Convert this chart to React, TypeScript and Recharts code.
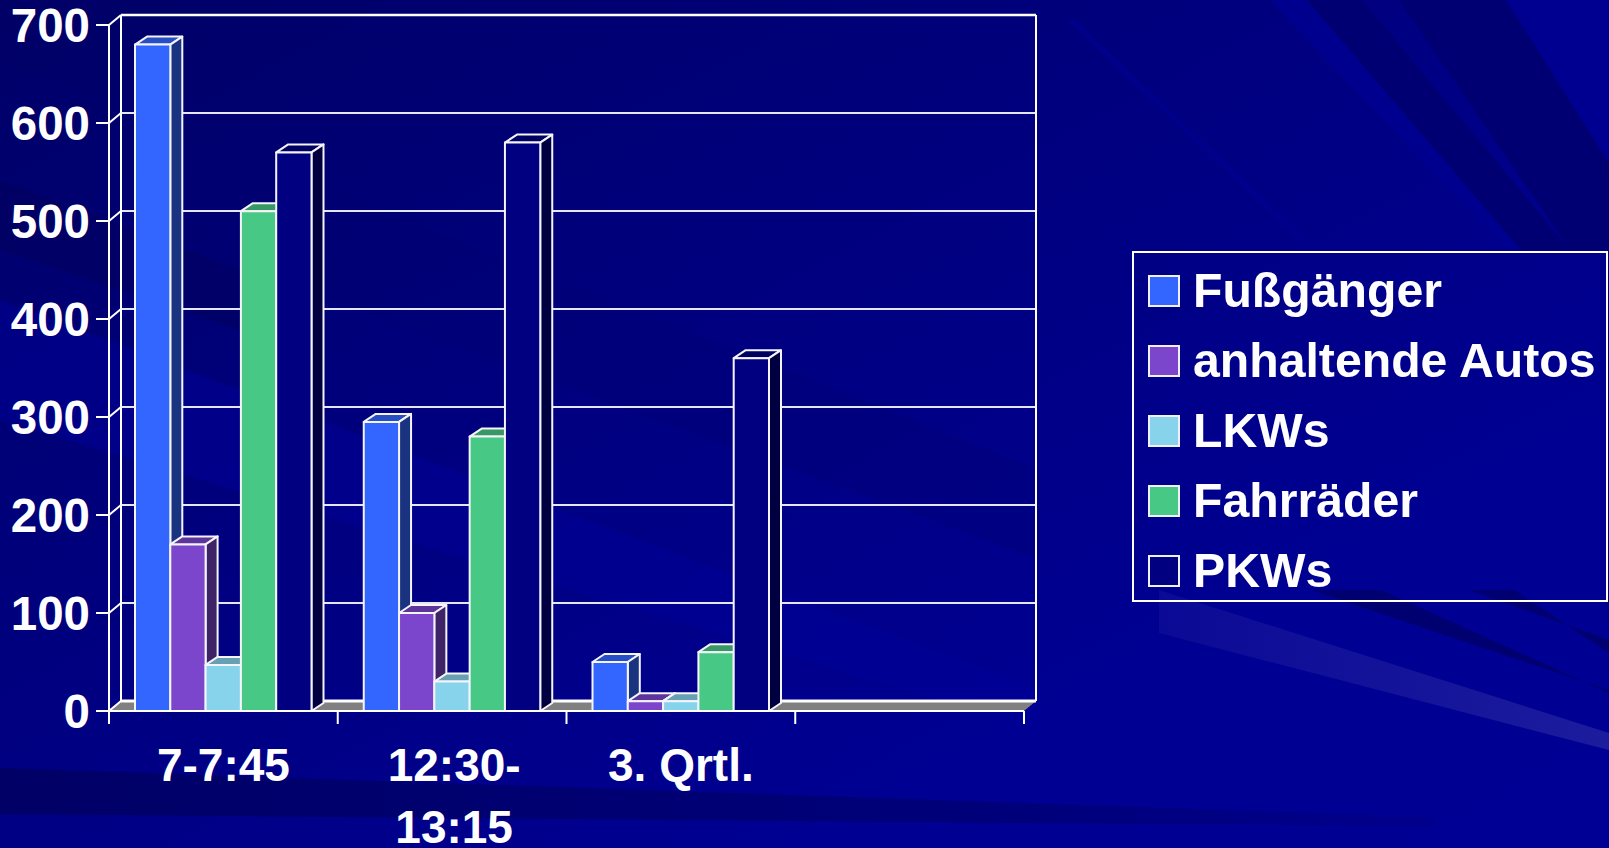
// App.tsx - 3D-Saeulendiagramm Verkehrszaehlung

import React from "react";
import { BarChart, Bar, XAxis, YAxis, CartesianGrid, Legend } from "recharts";

const categories = ["7-7:45", "12:30-\n13:15", "3. Qrtl.", ""];
const yTicks = [0, 100, 200, 300, 400, 500, 600, 700];

const fussgaenger = [680, 295, 50, 0];
const anhaltendeAutos = [170, 100, 10, 0];
const lkws = [47, 30, 10, 0];
const fahrraeder = [510, 280, 60, 0];
const pkws = [570, 580, 360, 0];

const seriesNames = ["Fußgänger", "anhaltende Autos", "LKWs", "Fahrräder", "PKWs"];
const seriesColors = ["#3366ff", "#7b45cc", "#87d3ec", "#48c885", "#000080"];
const seriesValues = [fussgaenger, anhaltendeAutos, lkws, fahrraeder, pkws];

const chartData = categories.map((name, i) => {
  const row: any = { name };
  seriesNames.forEach((s, j) => {
    row[s] = seriesValues[j][i];
  });
  return row;
});

const WIDTH = 1609;
const HEIGHT = 848;
const PLOT_LEFT = 109;
const PLOT_RIGHT = 1024;
const PLOT_TOP = 25;
const PLOT_BOTTOM = 711;
const BAND = (PLOT_RIGHT - PLOT_LEFT) / categories.length;

// Tiefe der Rueckwand und der Saeulen
const WALL_DX = 12;
const WALL_DY = 10;
const BAR_DX = 12;
const BAR_DY = 8;
const FONT = "'Liberation Sans', Arial, sans-serif";

const shade = (hex: string, f: number) => {
  const n = parseInt(hex.slice(1), 16);
  const r = Math.round(((n >> 16) & 255) * f);
  const g = Math.round(((n >> 8) & 255) * f);
  const b = Math.round((n & 255) * f);
  return `rgb(${r},${g},${b})`;
};

const Bar3D = ({ x, y, width, height, fill }: any) => {
  if (!height || height <= 0) return null;
  const r = x + width;
  const b = y + height;
  const edge = { stroke: "#f4f4fa", strokeWidth: 2, strokeLinejoin: "round" as const };
  return (
    <g>
      <polygon
        points={`${x},${y} ${r},${y} ${r + BAR_DX},${y - BAR_DY} ${x + BAR_DX},${y - BAR_DY}`}
        fill={shade(fill, 0.76)}
        {...edge}
      />
      <polygon
        points={`${r},${y} ${r + BAR_DX},${y - BAR_DY} ${r + BAR_DX},${b - BAR_DY} ${r},${b}`}
        fill={shade(fill, 0.5)}
        {...edge}
      />
      <rect x={x} y={y} width={width} height={height} fill={fill} {...edge} />
    </g>
  );
};

// Gitterlinie auf der Rueckwand, unten kommt der Boden, oben die Wand dazu
const WallLine = ({ x1, x2, y1 }: any) => {
  const lx = x1 + WALL_DX;
  const rx = x2 + WALL_DX;
  const wy = y1 - WALL_DY;
  if (Math.abs(y1 - PLOT_BOTTOM) < 1) {
    return (
      <g>
        <polygon points={`${x1},${y1} ${x2},${y1} ${rx},${wy} ${lx},${wy}`} fill="#808080" />
        <line x1={lx} x2={rx} y1={wy} y2={wy} stroke="#ffffff" strokeWidth={3} />
      </g>
    );
  }
  if (Math.abs(y1 - PLOT_TOP) < 1) {
    return (
      <g>
        <line x1={lx} x2={rx} y1={wy} y2={wy} stroke="#ffffff" strokeWidth={2.5} />
        <line x1={lx} x2={lx} y1={wy} y2={PLOT_BOTTOM - WALL_DY} stroke="#ffffff" strokeWidth={2} />
        <line x1={rx} x2={rx} y1={wy} y2={PLOT_BOTTOM - WALL_DY} stroke="#ffffff" strokeWidth={2} />
      </g>
    );
  }
  return <line x1={lx} x2={rx} y1={wy} y2={wy} stroke="#e6e6f2" strokeWidth={2} />;
};

const YTick = ({ y, payload }: any) => (
  <g>
    <line x1={PLOT_LEFT - 13} x2={PLOT_LEFT} y1={y} y2={y} stroke="#ffffff" strokeWidth={2} />
    <line x1={PLOT_LEFT} x2={PLOT_LEFT + WALL_DX} y1={y} y2={y - WALL_DY} stroke="#ffffff" strokeWidth={2} />
    <text x={PLOT_LEFT - 19} y={y + 17} textAnchor="end" fill="#ffffff" fontFamily={FONT} fontWeight="bold" fontSize={47.5}>
      {payload.value}
    </text>
  </g>
);

const XTick = ({ x, payload, index }: any) => {
  const lines = String(payload.value).split("\n");
  const tick = (px: number) => (
    <line x1={px} x2={px} y1={PLOT_BOTTOM} y2={PLOT_BOTTOM + 13} stroke="#ffffff" strokeWidth={2} />
  );
  return (
    <g>
      {tick(x - BAND / 2)}
      {index === categories.length - 1 && tick(x + BAND / 2)}
      <text textAnchor="middle" fill="#ffffff" fontFamily={FONT} fontWeight="bold" fontSize={46}>
        {lines.map((l, i) => (
          <tspan key={i} x={x + (lines.length > 1 ? 2 : 0)} y={PLOT_BOTTOM + 70 + i * 62}>
            {l}
          </tspan>
        ))}
      </text>
    </g>
  );
};

const LegendBox = ({ payload }: any) => (
  <div
    style={{
      boxSizing: "border-box",
      width: 476,
      height: 351,
      border: "2px solid #ffffff",
      padding: "22px 0 0 14px",
      fontFamily: FONT,
      fontWeight: "bold",
      fontSize: 48.2,
      color: "#ffffff",
      whiteSpace: "nowrap",
    }}
  >
    {(payload || []).map((p: any) => (
      <div key={p.value} style={{ display: "flex", alignItems: "center", height: 31, marginBottom: 39 }}>
        <span
          style={{
            boxSizing: "border-box",
            display: "inline-block",
            width: 32,
            height: 32,
            marginRight: 13,
            background: p.color,
            border: "2px solid #f0f0f8",
          }}
        />
        <span style={{ lineHeight: "31px" }}>{p.value}</span>
      </div>
    ))}
  </div>
);

// Folienhintergrund mit den schraegen Streifen
const Backdrop = () => (
  <svg width={WIDTH} height={HEIGHT} style={{ position: "absolute", left: 0, top: 0 }}>
    <defs>
      <linearGradient id="bg" x1="0" y1="0" x2="1" y2="1">
        <stop offset="0" stopColor="#000066" />
        <stop offset="0.4" stopColor="#00007f" />
        <stop offset="0.75" stopColor="#000092" />
        <stop offset="1" stopColor="#000094" />
      </linearGradient>
      <linearGradient id="glow" x1="0" y1="0" x2="1" y2="0">
        <stop offset="0" stopColor="#0a0a96" />
        <stop offset="1" stopColor="#1c1c9e" />
      </linearGradient>
      <linearGradient id="low" x1="0" y1="0" x2="1" y2="0">
        <stop offset="0" stopColor="#000066" />
        <stop offset="0.7" stopColor="#00007a" />
        <stop offset="1" stopColor="#00008c" />
      </linearGradient>
    </defs>
    <rect width={WIDTH} height={HEIGHT} fill="url(#bg)" />
    <polygon points="0,60 1040,470 1040,560 0,180" fill="#000070" opacity={0.3} />
    <polygon points="0,300 1040,690 1040,730 0,420" fill="#000098" opacity={0.5} />
    <polygon points="0,180 240,270 240,330 0,250" fill="#00005c" opacity={0.5} />
    <polygon points="1067,20 1075,20 1315,247 1305,247" fill="#00008b" />
    <polygon points="1270,0 1307,0 1521,250 1506,250" fill="#00008e" />
    <polygon points="1307,0 1362,0 1570,250 1521,250" fill="#000072" />
    <polygon points="1399,0 1506,0 1609,163 1609,250 1570,250" fill="#000072" />
    <polygon points="1506,0 1609,0 1609,163" fill="#000090" />
    <polygon points="1311,590 1381,590 1609,693 1609,690" fill="#000070" />
    <polygon points="1469,590 1514,590 1609,653 1609,640" fill="#000070" />
    <polygon points="1159,590 1609,733 1609,750 1159,633" fill="url(#glow)" />
    <polygon points="0,768 1436,817 1436,826 1030,823 0,814" fill="url(#low)" />
  </svg>
);

export default function App() {
  return (
    <div style={{ position: "absolute", left: 0, top: 0, width: WIDTH, height: HEIGHT, overflow: "hidden" }}>
      <Backdrop />
      <div style={{ position: "absolute", left: 0, top: 0 }}>
        <BarChart
          width={WIDTH}
          height={HEIGHT}
          data={chartData}
          margin={{ top: PLOT_TOP, right: WIDTH - PLOT_RIGHT, bottom: 0, left: 0 }}
          barSize={35.3}
          barGap={0}
        >
          <CartesianGrid horizontal={(p: any) => <WallLine key={p.index} {...p} />} vertical={false} />
          <XAxis
            dataKey="name"
            height={HEIGHT - PLOT_BOTTOM}
            interval={0}
            tickLine={false}
            axisLine={{ stroke: "#ffffff", strokeWidth: 2 }}
            tick={<XTick />}
          />
          <YAxis
            width={PLOT_LEFT}
            domain={[0, 700]}
            ticks={yTicks}
            tickLine={false}
            axisLine={{ stroke: "#ffffff", strokeWidth: 2 }}
            tick={<YTick />}
          />
          <Legend
            layout="vertical"
            align="center"
            verticalAlign="middle"
            itemSorter={null}
            content={<LegendBox />}
            wrapperStyle={{ left: 1132, top: 251, width: 476, height: 351 }}
          />
          {seriesNames.map((s, i) => (
            <Bar key={s} dataKey={s} fill={seriesColors[i]} shape={<Bar3D />} isAnimationActive={false} />
          ))}
        </BarChart>
      </div>
    </div>
  );
}
